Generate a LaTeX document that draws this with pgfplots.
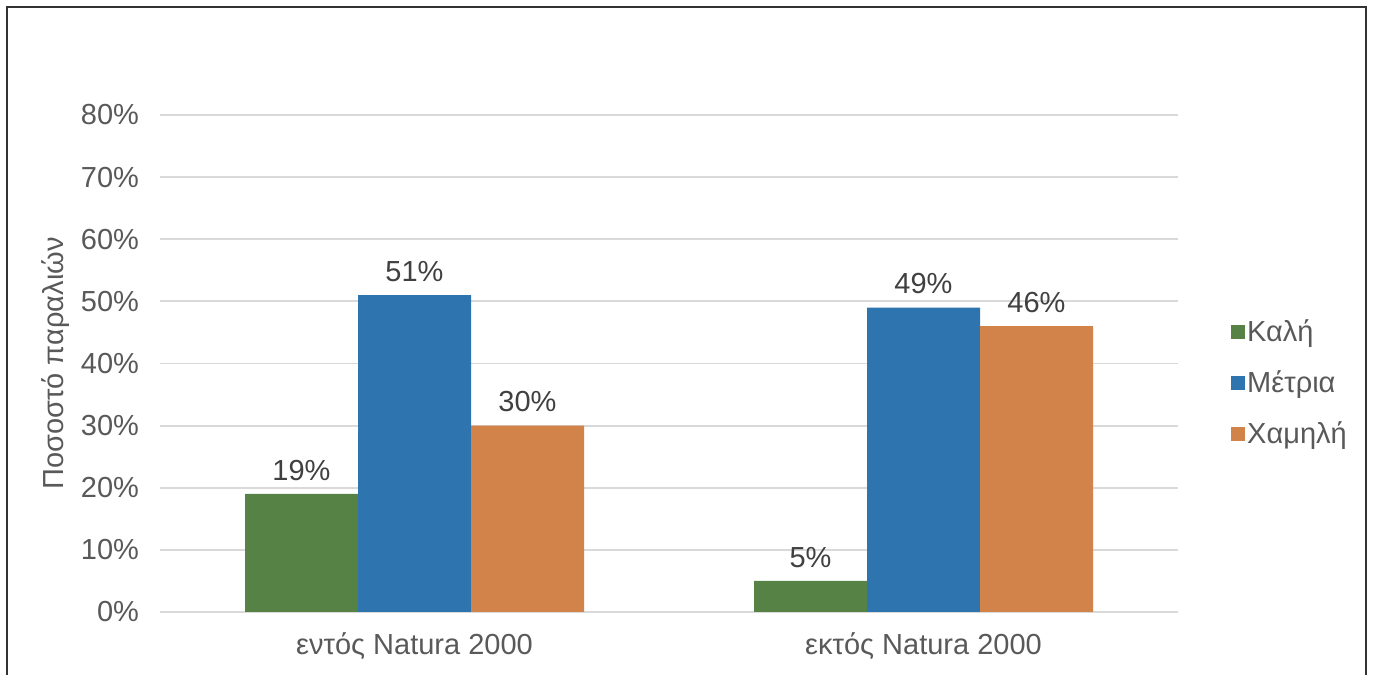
\documentclass[border=0pt]{standalone}
\usepackage{fontspec}
\setmainfont{Liberation Sans}
\usepackage{pgfplots}
\pgfplotsset{compat=1.18}
\definecolor{kali}{RGB}{86,130,70}
\definecolor{metria}{RGB}{46,117,176}
\definecolor{xamili}{RGB}{210,131,74}
\definecolor{gridgray}{RGB}{217,217,217}
\definecolor{ticktext}{RGB}{89,89,89}
\definecolor{labeltext}{RGB}{64,64,64}
\newcommand{\chartfont}{\fontsize{14.5}{17}\selectfont}

\begin{document}
\begin{tikzpicture}
\useasboundingbox (0,0) rectangle (686.5pt,337.5pt);
\draw[line width=1pt, black!80] (3.25pt,0) -- (3.25pt,334pt) -- (683pt,334pt) -- (683pt,0);
\begin{axis}[
    at={(80pt,31.5pt)}, anchor=south west,
    scale only axis, width=509pt, height=248.5pt,
    ybar=0pt, bar width=56.5pt,
    xmin=-0.5, xmax=1.5, ymin=0, ymax=80,
    clip=false,
    axis x line*=bottom, axis y line*=left,
    axis line style={draw=none},
    major tick length=0pt,
    xtick={0,1},
    xticklabels={εντός Natura 2000, εκτός Natura 2000},
    ytick={0,10,...,80},
    yticklabel={\pgfmathprintnumber{\tick}\%},
    /pgf/number format/assume math mode=true,
    ymajorgrids,
    grid style={gridgray, line width=0.9pt},
    tick label style={font=\chartfont, text=ticktext},
    yticklabel style={xshift=-7pt},
    xticklabel style={yshift=-7pt},
    ylabel={Ποσοστό παραλιών},
    ylabel style={at={(axis description cs:-0.103,0.5)}, anchor=center, font=\chartfont, text=ticktext},
    nodes near coords={\pgfmathprintnumber{\pgfplotspointmeta}\%},
    nodes near coords style={font=\chartfont, text=labeltext, inner sep=0pt, anchor=south, yshift=6.5pt},
    legend image code/.code={\fill[#1] (0pt,-3.5pt) rectangle (7pt,3.5pt);},
    legend cell align=left,
    legend style={at={(1.046,0.461)}, anchor=west, draw=none, fill=none,
        font=\chartfont, text=ticktext, row sep=11pt,
        nodes={inner sep=1pt},
        /tikz/every even column/.append style={column sep=0pt}},
]
\addplot[fill=kali, draw=none] coordinates {(0,19) (1,5)};
\addplot[fill=metria, draw=none] coordinates {(0,51) (1,49)};
\addplot[fill=xamili, draw=none] coordinates {(0,30) (1,46)};
\legend{Καλή, Μέτρια, Χαμηλή}
\end{axis}
\end{tikzpicture}
\end{document}
